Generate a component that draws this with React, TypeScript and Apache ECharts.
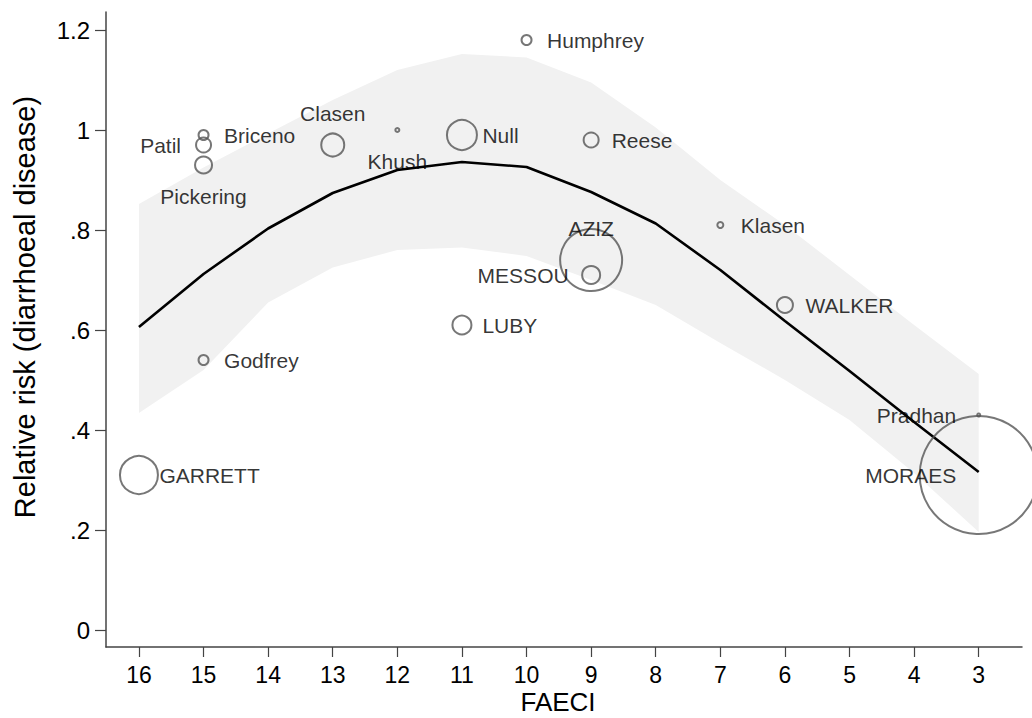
import React, { useEffect, useRef } from "react";
import * as echarts from "echarts";

// Study points
const studyNames = ["GARRETT", "Godfrey", "Pickering", "Patil", "Briceno", "Clasen", "Khush", "Null", "Humphrey", "Reese", "AZIZ", "MESSOU", "LUBY", "Klasen", "WALKER", "Pradhan", "MORAES"];
const studyFaeci = [16, 15, 15, 15, 15, 13, 12, 11, 10, 9, 9, 9, 11, 7, 6, 3, 3];
const studyRR = [0.31, 0.54, 0.93, 0.97, 0.99, 0.97, 1.0, 0.99, 1.18, 0.98, 0.74, 0.71, 0.61, 0.81, 0.65, 0.43, 0.31];
const studyWeight = [38, 10, 17, 15, 10, 23, 4, 30, 10, 15, 62, 18, 19, 6, 16, 3, 118];
const labelPos = ["right", "right", "bottom", "left", "right", "top", "bottom", "right", "right", "right", "top", "left", "right", "right", "right", "left", "left"];

// Fitted curve and confidence band
const fitX = [16, 15, 14, 13, 12, 11, 10, 9, 8, 7, 6, 5, 4, 3];
const fitY = [0.606, 0.712, 0.803, 0.874, 0.92, 0.936, 0.926, 0.876, 0.813, 0.72, 0.618, 0.518, 0.416, 0.316];
const bandUpper = [0.852, 0.925, 0.993, 1.06, 1.12, 1.152, 1.145, 1.095, 1.005, 0.9, 0.81, 0.71, 0.61, 0.512];
const bandLower = [0.434, 0.52, 0.655, 0.725, 0.76, 0.765, 0.748, 0.7, 0.65, 0.574, 0.5, 0.42, 0.314, 0.196];

const xTicks = [16, 15, 14, 13, 12, 11, 10, 9, 8, 7, 6, 5, 4, 3];
const yTicks = [0, 0.2, 0.4, 0.6, 0.8, 1, 1.2];

const FONT = "'Liberation Sans', Arial, Helvetica, sans-serif";

export default function App() {
  const ref = useRef<HTMLDivElement>(null);
  useEffect(() => {
    if (!ref.current) return;
    const chart = echarts.init(ref.current, null, { renderer: "svg" });
    const axisColor = "#444444";
    const option: any = {
      animation: false,
      backgroundColor: "#ffffff",
      textStyle: { fontFamily: FONT },
      grid: { left: 106, right: 10, top: 12, bottom: 71, containLabel: false },
      xAxis: {
        type: "value",
        min: 2.33,
        max: 16.51,
        inverse: true,
        splitLine: { show: false },
        axisLine: { show: true, onZero: false, lineStyle: { color: axisColor, width: 1.5 } },
        axisTick: { show: true, length: 10, customValues: xTicks, lineStyle: { color: axisColor, width: 1.2 } },
        axisLabel: { customValues: xTicks, fontSize: 23, color: "#000", margin: 16, fontFamily: FONT },
      },
      yAxis: {
        type: "value",
        min: -0.034,
        max: 1.236,
        splitLine: { show: false },
        axisLine: { show: true, onZero: false, lineStyle: { color: axisColor, width: 1.5 } },
        axisTick: { show: true, length: 11, customValues: yTicks, lineStyle: { color: axisColor, width: 1.2 } },
        axisLabel: {
          customValues: yTicks,
          fontSize: 24,
          color: "#000",
          margin: 16,
          fontFamily: FONT,
          formatter: (v: number) => (v === 0 ? "0" : String(Math.round(v * 10) / 10).replace(/^0\./, ".")),
        },
      },
      graphic: [
        {
          type: "text",
          x: 25,
          y: 307,
          rotation: Math.PI / 2,
          style: {
            text: "Relative risk (diarrhoeal disease)",
            fontSize: 29,
            fontFamily: FONT,
            fill: "#000",
            textAlign: "center",
            textVerticalAlign: "middle",
          },
        },
        {
          type: "text",
          x: 558,
          y: 702,
          style: {
            text: "FAECI",
            fontSize: 26,
            fontFamily: FONT,
            fill: "#000",
            textAlign: "center",
            textVerticalAlign: "middle",
          },
        },
      ],
      series: [
        {
          type: "custom",
          z: 1,
          silent: true,
          data: [[fitX[0], bandUpper[0]]],
          renderItem: (params: any, api: any) => {
            const pts: number[][] = [];
            for (let i = 0; i < fitX.length; i++) pts.push(api.coord([fitX[i], bandUpper[i]]));
            for (let i = fitX.length - 1; i >= 0; i--) pts.push(api.coord([fitX[i], bandLower[i]]));
            return { type: "polygon", shape: { points: pts }, style: { fill: "#f1f1f1" } };
          },
        },
        {
          type: "line",
          z: 2,
          data: fitX.map((x, i) => [x, fitY[i]]),
          showSymbol: false,
          symbol: "none",
          smooth: false,
          lineStyle: { color: "#000", width: 2.6 },
        },
        {
          type: "scatter",
          z: 3,
          clip: false,
          data: studyNames.map((n, i) => ({ name: n, value: [studyFaeci[i], studyRR[i]], symbolSize: studyWeight[i] })),
          symbol: "circle",
          itemStyle: { color: "rgba(0,0,0,0)", borderColor: "#555555", borderWidth: 2 },
        },
        {
          type: "scatter",
          z: 4,
          clip: false,
          symbolSize: 1,
          itemStyle: { color: "rgba(0,0,0,0)" },
          data: studyNames.map((n, i) => {
            const p = labelPos[i];
            const vertical = p === "top" || p === "bottom";
            return {
              name: n,
              value: [studyFaeci[i], studyRR[i]],
              label: {
                show: true,
                position: p,
                distance: vertical ? 20 : p === "left" ? 22 : 20,
                formatter: n,
                fontSize: 21,
                lineHeight: 22,
                color: "#000",
                fontFamily: FONT,
              },
            };
          }),
        },
      ],
    };
    chart.setOption(option);
    return () => chart.dispose();
  }, []);
  return <div ref={ref} style={{ position: "fixed", left: 0, top: 0, width: 1032, height: 718 }} />;
}
